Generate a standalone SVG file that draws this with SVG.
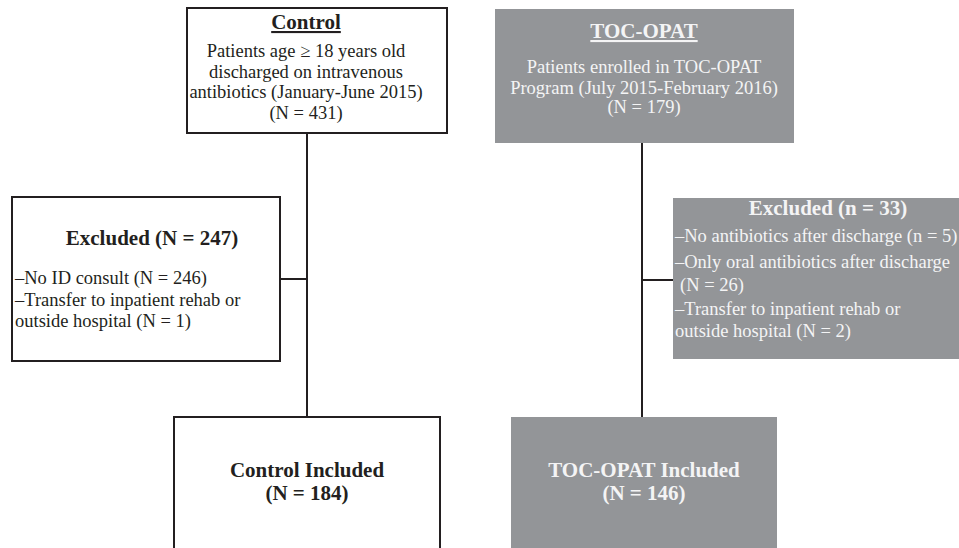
<svg xmlns="http://www.w3.org/2000/svg" width="959" height="548" viewBox="0 0 959 548">
<style>
.box{fill:#ffffff;stroke:#231f20;stroke-width:2}
.gbox{fill:#939598;stroke:none}
.t{font-family:"Liberation Serif","Times New Roman",serif;font-size:18.5px;fill:#231f20}
.w{fill:#f4f4f5}
.b{font-weight:bold;font-size:21px}
.c{text-anchor:middle}
.u{text-decoration:underline}
.conn{stroke:#231f20;stroke-width:2;fill:none}
</style>
<rect width="959" height="548" fill="#ffffff"/>
<g id="connectors">
<path class="conn" d="M307 133V417"/>
<path class="conn" d="M280 279H307"/>
<path class="conn" d="M642 143V417"/>
<path class="conn" d="M642 280H673"/>
</g>
<g id="control">
<rect class="box" x="187" y="8" width="260" height="125"/>
<text class="t b c u" x="306" y="29">Control</text>
<text class="t c" x="306" y="57">Patients age ≥ 18 years old</text>
<text class="t c" x="306" y="77.5">discharged on intravenous</text>
<text class="t c" x="306" y="98">antibiotics (January-June 2015)</text>
<text class="t c" x="306" y="119">(N = 431)</text>
</g>
<g id="toc-opat">
<rect class="gbox" x="495" y="9" width="299" height="134"/>
<text class="t b c u w" x="644" y="38">TOC-OPAT</text>
<text class="t c w" x="644" y="73">Patients enrolled in TOC-OPAT</text>
<text class="t c w" x="644" y="94">Program (July 2015-February 2016)</text>
<text class="t c w" x="644" y="113">(N = 179)</text>
</g>
<g id="control-excluded">
<rect class="box" x="12" y="197" width="268" height="164"/>
<text class="t b c" x="152" y="245">Excluded (N = 247)</text>
<text class="t" x="15" y="284">–No ID consult (N = 246)</text>
<text class="t" x="15" y="306">–Transfer to inpatient rehab or</text>
<text class="t" x="15" y="327">outside hospital (N = 1)</text>
</g>
<g id="toc-excluded">
<rect class="gbox" x="673" y="198" width="300" height="161"/>
<text class="t b c w" x="828" y="215">Excluded (n = 33)</text>
<text class="t w" x="675" y="242">–No antibiotics after discharge (n = 5)</text>
<text class="t w" x="675" y="268">–Only oral antibiotics after discharge</text>
<text class="t w" x="680" y="291">(N = 26)</text>
<text class="t w" x="675" y="315">–Transfer to inpatient rehab or</text>
<text class="t w" x="675" y="337">outside hospital (N = 2)</text>
</g>
<g id="control-included">
<rect class="box" x="174" y="417" width="266" height="140"/>
<text class="t b c" x="307" y="477">Control Included</text>
<text class="t b c" x="307" y="500">(N = 184)</text>
</g>
<g id="toc-included">
<rect class="gbox" x="511" y="417" width="266" height="140"/>
<text class="t b c w" x="644" y="477">TOC-OPAT Included</text>
<text class="t b c w" x="644" y="500">(N = 146)</text>
</g>
</svg>
